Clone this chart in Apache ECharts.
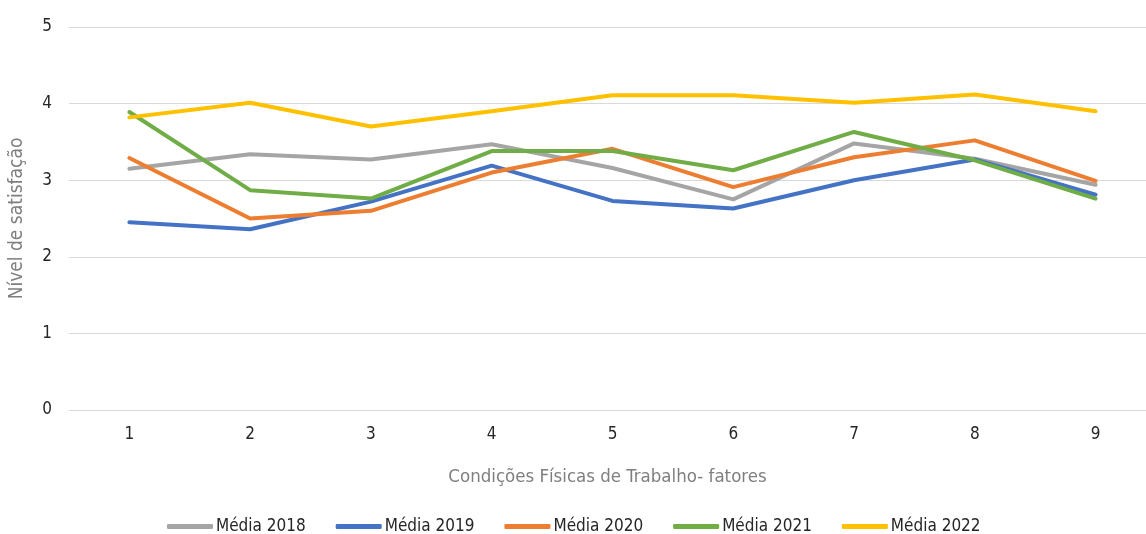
<!DOCTYPE html>
<html><head><meta charset="utf-8">
<script src="https://cdn.jsdelivr.net/npm/echarts@6/dist/echarts.min.js"></script>
<style>html,body{margin:0;padding:0;background:#fff}#c{width:1146px;height:534px}</style>
</head><body><div id="c"></div>
<script>
const categories = ['1','2','3','4','5','6','7','8','9'];
const yTicks = [0,1,2,3,4,5];
const seriesNames = ['Média 2018','Média 2019','Média 2020','Média 2021','Média 2022'];
const media2018 = [3.15,3.34,3.27,3.47,3.16,2.75,3.48,3.28,2.94];
const media2019 = [2.45,2.36,2.72,3.19,2.73,2.63,3.00,3.27,2.81];
const media2020 = [3.29,2.50,2.60,3.10,3.41,2.91,3.30,3.52,2.99];
const media2021 = [3.89,2.87,2.76,3.38,3.38,3.13,3.63,3.26,2.76];
const media2022 = [3.82,4.01,3.70,3.90,4.11,4.11,4.01,4.12,3.90];
const colors = ['#A5A5A5','#4472C4','#ED7D31','#70AD47','#FFC000'];
const values = [media2018,media2019,media2020,media2021,media2022];
const FONT = '"Liberation Sans Narrow","DejaVu Sans Condensed","Roboto",sans-serif';
const catNums = categories.map(Number);
const chart = echarts.init(document.getElementById('c'));
chart.setOption({
  animation:false,
  textStyle:{fontFamily:FONT},
  grid:{left:67,right:0,top:27,bottom:124,containLabel:false},
  legend:{top:518,left:167,padding:0,itemWidth:46,itemHeight:5,itemGap:30,icon:'roundRect',
    textStyle:{fontFamily:FONT,fontSize:17,color:'#262626',padding:[0,0,0,-2]},data:seriesNames},
  xAxis:{type:'value',min:0.5,max:0.5+1079/121,interval:0.5,
    splitLine:{show:false},axisLine:{show:false},axisTick:{show:false},
    axisLabel:{color:'#262626',fontSize:17,margin:16,fontFamily:FONT,showMaxLabel:false,showMinLabel:false,
      formatter:v=>catNums.includes(v)?categories[catNums.indexOf(v)]:''},
    name:'Condições Físicas de Trabalho- fatores',nameLocation:'middle',nameGap:58,
    nameTextStyle:{color:'#7F7F7F',fontSize:18.5,fontFamily:FONT}},
  yAxis:{type:'value',min:0,max:5,interval:1,
    axisLine:{show:false},axisTick:{show:false},
    splitLine:{lineStyle:{color:'#D9D9D9',width:1}},
    axisLabel:{color:'#262626',fontSize:17,margin:17,fontFamily:FONT,
      formatter:v=>yTicks.includes(v)?String(v):''},
    name:'Nível de satisfação',nameLocation:'middle',nameGap:42,nameRotate:90,
    nameTextStyle:{color:'#7F7F7F',fontSize:19,fontFamily:FONT}},
  series:seriesNames.map((n,i)=>({name:n,type:'line',data:values[i].map((v,j)=>[catNums[j],v]),symbol:'none',
    lineStyle:{width:4,color:colors[i],cap:'round',join:'round'},itemStyle:{color:colors[i]}}))
});
</script></body></html>
